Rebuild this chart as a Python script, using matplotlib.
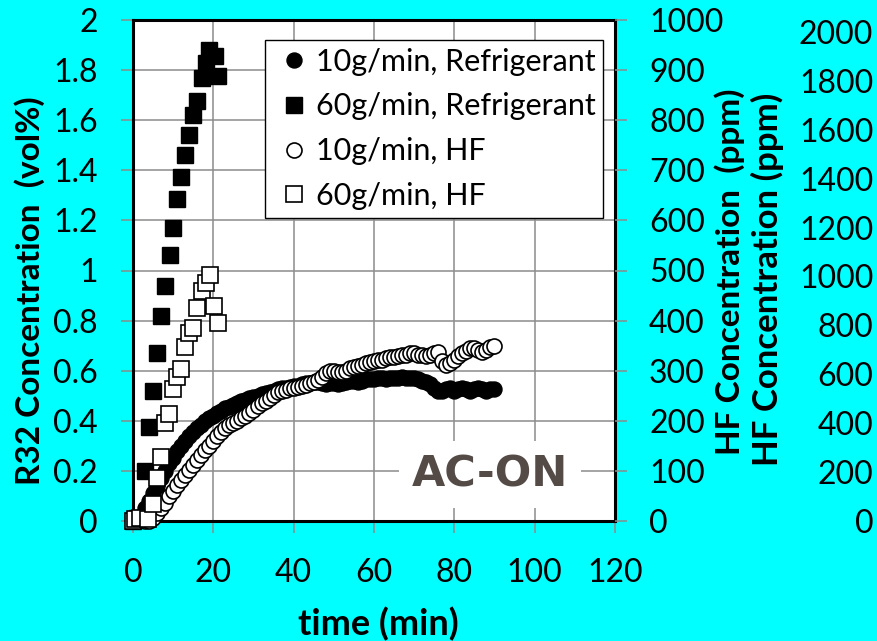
import matplotlib
matplotlib.use("Agg")
import matplotlib.pyplot as plt
from matplotlib.lines import Line2D

plt.rcParams["font.family"] = ["Lato", "DejaVu Sans"]

# 10 g/min, refrigerant (vol%), one reading per minute
t_10 = [1, 2, 3, 4, 5, 6, 7, 8, 9, 10,
        11, 12, 13, 14, 15, 16, 17, 18, 19, 20,
        21, 22, 23, 24, 25, 26, 27, 28, 29, 30,
        31, 32, 33, 34, 35, 36, 37, 38, 39, 40,
        41, 42, 43, 44, 45, 46, 47, 48, 49, 50,
        51, 52, 53, 54, 55, 56, 57, 58, 59, 60,
        61, 62, 63, 64, 65, 66, 67, 68, 69, 70,
        71, 72, 73, 74, 75, 76, 77, 78, 79, 80,
        81, 82, 83, 84, 85, 86, 87, 88, 89, 90]
r32_10 = [0.00, 0.02, 0.05, 0.08, 0.11, 0.14, 0.17, 0.20, 0.23, 0.25,
          0.28, 0.30, 0.32, 0.34, 0.355, 0.37, 0.385, 0.40, 0.41, 0.42,
          0.43, 0.44, 0.45, 0.455, 0.465, 0.47, 0.48, 0.485, 0.49, 0.495,
          0.50, 0.505, 0.51, 0.515, 0.52, 0.525, 0.53, 0.53, 0.535, 0.54,
          0.54, 0.545, 0.55, 0.55, 0.555, 0.555, 0.55, 0.545, 0.55, 0.55,
          0.545, 0.55, 0.555, 0.56, 0.56, 0.555, 0.56, 0.565, 0.565, 0.565,
          0.57, 0.57, 0.565, 0.57, 0.57, 0.57, 0.575, 0.57, 0.57, 0.57,
          0.565, 0.56, 0.555, 0.545, 0.53, 0.52, 0.52, 0.525, 0.53, 0.52,
          0.525, 0.53, 0.525, 0.52, 0.525, 0.53, 0.525, 0.52, 0.525, 0.525]

# 10 g/min, HF (ppm)
t_10_hf = [3, 4, 5, 6, 7, 8, 9, 10,
           11, 12, 13, 14, 15, 16, 17, 18, 19, 20,
           21, 22, 23, 24, 25, 26, 27, 28, 29, 30,
           31, 32, 33, 34, 35, 36, 37, 38, 39, 40,
           41, 42, 43, 44, 45, 46, 47, 48, 49, 50,
           51, 52, 53, 54, 55, 56, 57, 58, 59, 60,
           61, 62, 63, 64, 65, 66, 67, 68, 69, 70,
           71, 72, 73, 74, 75, 76, 77, 78, 79, 80,
           81, 82, 83, 84, 85, 86, 87, 88, 89, 90]
hf_10 = [0, 0, 5, 15, 25, 35, 50, 60,
         72, 82, 92, 102, 112, 122, 132, 142, 150, 160,
         170, 178, 185, 192, 195, 200, 205, 210, 215, 222,
         230, 235, 240, 245, 252, 257, 260, 262, 265, 265,
         268, 270, 272, 275, 278, 282, 288, 295, 300, 300,
         298, 298, 300, 305, 308, 310, 312, 315, 318, 320,
         322, 322, 325, 328, 328, 330, 332, 332, 335, 335,
         332, 332, 330, 332, 335, 338, 320, 312, 315, 322,
         330, 335, 340, 345, 345, 342, 338, 342, 348, 350]

# 60 g/min, refrigerant (vol%)
t_60 = [0, 1, 3.1, 3.9, 5.0, 6.0, 7.0, 8.0, 9.2, 10.0, 11.0,
        12.0, 13.0, 14.0, 15.0, 16.0, 17.2, 18.2, 19.0, 20.4, 21.2]
r32_60 = [0.0, 0.01, 0.20, 0.375, 0.52, 0.67, 0.82, 0.94, 1.06, 1.17, 1.285,
          1.375, 1.46, 1.54, 1.62, 1.675, 1.77, 1.83, 1.88, 1.855, 1.775]

# 60 g/min, HF (ppm)
t_60_hf = [0, 0.6, 1.7, 3.7, 5.1, 6.0, 7.0, 8.0, 9.0, 10.0, 11.0, 12.0,
           13.0, 14.0, 15.0, 16.0, 17.1, 18.2, 19.2, 20.2, 21.1]
hf_60 = [0, 4, 5, 3, 33, 86, 128, 196, 214, 263, 288, 303,
         348, 376, 385, 425, 459, 476, 492, 430, 395]

x_ticks = [0, 20, 40, 60, 80, 100, 120]
r32_ticks = [0, 0.2, 0.4, 0.6, 0.8, 1, 1.2, 1.4, 1.6, 1.8, 2]
hf_ticks = [0, 100, 200, 300, 400, 500, 600, 700, 800, 900, 1000]
hf2_ticks = [0, 200, 400, 600, 800, 1000, 1200, 1400, 1600, 1800, 2000]
labels = ["10g/min, Refrigerant", "60g/min, Refrigerant",
          "10g/min, HF", "60g/min, HF"]

BG = "#00ffff"
GRID = "#8c8c8c"
W, H = 878, 641
MS_O, MS_S = 10.8, 11

fig = plt.figure(figsize=(W / 100, H / 100), dpi=100, facecolor=BG)
ax = fig.add_axes([133 / W, 120 / H, 482 / W, 501 / H])
ax.set_facecolor("white")
ax.set_xlim(0, 120)
ax.set_ylim(0, 2)
ax.set_xticks(x_ticks)
ax.set_yticks(r32_ticks)
ax.set_yticklabels(["{:g}".format(v) for v in r32_ticks])
ax.grid(True, color=GRID, lw=1.1)
ax.set_axisbelow(True)
ax.tick_params(direction="out", length=8.5, width=1.1, color=GRID, labelsize=23)
ax.tick_params(axis="x", pad=18)
ax.tick_params(axis="y", pad=17)
for s in ax.spines.values():
    s.set_linewidth(2.2)
    s.set_color("black")

ax2 = ax.twinx()
ax2.set_ylim(0, 1000)
ax2.set_yticks(hf_ticks)
ax2.tick_params(direction="out", length=8.5, width=1.1, color=GRID,
                labelsize=23, pad=16)
for s in ax2.spines.values():
    s.set_visible(False)

ax3 = ax.twinx()
ax3.set_ylim(12.2, 2048.8)
ax3.set_yticks(hf2_ticks)
ax3.tick_params(length=0, labelsize=23, pad=186)
plt.setp(ax3.get_yticklabels(), ha="right")
for s in ax3.spines.values():
    s.set_visible(False)

ax.plot(t_10, r32_10, "o", ms=MS_O, color="black", clip_on=False, zorder=3)
ax.plot(t_60, r32_60, "s", ms=MS_S, color="black", clip_on=False, zorder=3)
ax2.plot(t_10_hf, hf_10, "o", ms=MS_O, mfc="white", mec="black", mew=1.2,
         clip_on=False)
ax2.plot(t_60_hf, hf_60, "s", ms=MS_S, mfc="white", mec="black", mew=1.2,
         clip_on=False)

ax.text(0.741, 0.092, "AC-ON", transform=ax.transAxes, ha="center",
        va="center", fontsize=31, fontweight="bold", color="#544b47",
        family="DejaVu Sans", zorder=4,
        bbox=dict(facecolor="white", edgecolor="none", pad=9))

handles = [
    Line2D([], [], ls="none", marker="o", ms=MS_O, color="black"),
    Line2D([], [], ls="none", marker="s", ms=MS_S, color="black"),
    Line2D([], [], ls="none", marker="o", ms=MS_O, mfc="white", mec="black", mew=1.2),
    Line2D([], [], ls="none", marker="s", ms=MS_S, mfc="white", mec="black", mew=1.2),
]
leg = ax3.legend(handles, labels, loc="upper right", bbox_to_anchor=(0.975, 0.96),
                 frameon=True, fancybox=False, edgecolor="black", framealpha=1,
                 fontsize=22, handlelength=1.4, handletextpad=0.0,
                 borderpad=0.25, labelspacing=0.55, borderaxespad=0)
leg.get_frame().set_linewidth(1.0)

fig.text(30 / W, 1 - 291 / H, "R32 Concentration  (vol%)", rotation=90,
         ha="center", va="center", fontsize=24, fontweight="bold")
fig.text(378 / W, 1 - 624 / H, "time (min)", ha="center", va="center",
         fontsize=26, fontweight="bold")
fig.text(730 / W, 1 - 272 / H, "HF Concentration  (ppm)", rotation=90,
         ha="center", va="center", fontsize=24, fontweight="bold")
fig.text(767 / W, 1 - 279 / H, "HF Concentration (ppm)", rotation=90,
         ha="center", va="center", fontsize=25, fontweight="bold")

fig.savefig("out.png", dpi=100, facecolor=BG)
